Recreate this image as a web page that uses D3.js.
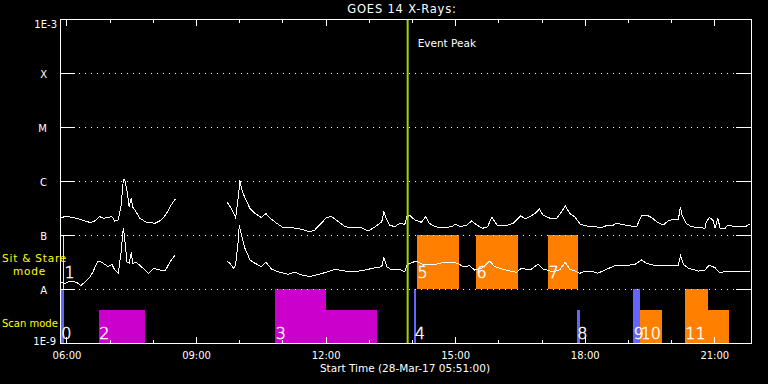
<!DOCTYPE html>
<html>
<head>
<meta charset="utf-8">
<script src="https://cdn.jsdelivr.net/npm/d3@7"></script>
<style>
body { margin: 0; background: #000; }
svg { display: block; }
text { font-family: "DejaVu Sans", sans-serif; fill: #fff; }
</style>
</head>
<body>
<script>
// GOES 14 X-ray flux, 28-Mar-17, with observation windows

var startTime = "05:51";
var endTime = "21:51";
var peakTime = "13:54";

// long channel (1-8 A), null = data gap
var longTimes = ["05:51","06:00","06:10","06:19","06:33","06:40","06:46","06:51","06:58","07:03","07:07","07:12","07:16","07:19","07:21","07:24","07:27","07:30","07:32","07:35","07:42","07:51","08:03","08:12","08:19","08:26","08:31",
  "09:00",
  "09:43","09:49","09:55","09:59","10:01","10:03","10:08","10:15","10:22","10:31","10:37","10:43","10:52","11:01","11:13","11:27","11:38","11:45","11:54","12:01","12:08","12:18","12:27","12:36","12:50","12:59","13:09","13:18","13:21","13:25","13:29","13:36","13:43","13:50","13:53","13:57","14:04","14:13","14:19","14:24","14:32","14:43","14:55","15:00","15:07","15:16","15:23","15:30","15:38","15:45","15:51","15:58","16:11","16:21","16:31","16:37","16:44","16:51","16:57","17:02","17:12","17:21","17:28","17:33","17:39","17:46","17:54","18:07","18:14","18:23","18:30","18:40","18:44","18:56","19:12","19:19","19:26","19:33","19:40","19:49","19:56","20:03","20:10","20:13","20:15","20:21","20:28","20:40","20:47","20:49","20:53","20:58","21:01","21:05","21:08","21:15","21:19","21:29","21:43","21:49"];
var longFlux = [2.1e-7,2.2e-7,2.1e-7,1.95e-7,1.7e-7,1.84e-7,2.2e-7,2.04e-7,2.1e-7,2.2e-7,1.82e-7,1.9e-7,3.6e-7,1.06e-6,1.04e-6,6.8e-7,3.3e-7,4.8e-7,3.3e-7,2.9e-7,2.04e-7,1.72e-7,1.65e-7,1.9e-7,2.5e-7,3.7e-7,4.6e-7,
  null,
  4.1e-7,3.1e-7,2.1e-7,5.5e-7,1.03e-6,7.3e-7,4.8e-7,3.1e-7,2.5e-7,2.1e-7,2.5e-7,2.04e-7,1.65e-7,1.37e-7,1.37e-7,1.27e-7,1.15e-7,1.24e-7,1.65e-7,2.1e-7,2.2e-7,1.76e-7,1.42e-7,1.37e-7,1.37e-7,1.19e-7,1.42e-7,1.76e-7,2.7e-7,1.9e-7,1.53e-7,1.42e-7,1.65e-7,1.58e-7,2.18e-7,2.3e-7,1.9e-7,1.72e-7,2.18e-7,1.65e-7,1.42e-7,1.37e-7,1.42e-7,1.58e-7,1.42e-7,1.53e-7,1.82e-7,1.53e-7,1.33e-7,1.42e-7,2.13e-7,1.53e-7,1.49e-7,1.65e-7,2.28e-7,1.98e-7,2.18e-7,2.52e-7,3.03e-7,2.34e-7,2.04e-7,2.04e-7,2.7e-7,3.49e-7,2.52e-7,2.18e-7,1.58e-7,1.42e-7,1.42e-7,1.37e-7,1.49e-7,1.53e-7,1.65e-7,1.53e-7,1.42e-7,2.28e-7,2.34e-7,2.1e-7,1.76e-7,1.53e-7,1.82e-7,1.95e-7,1.9e-7,3.34e-7,2.34e-7,1.65e-7,1.42e-7,1.37e-7,1.33e-7,1.76e-7,2.1e-7,1.9e-7,1.33e-7,2.04e-7,1.33e-7,1.33e-7,1.53e-7,1.42e-7,1.42e-7,1.58e-7];

// short channel (0.5-4 A)
var shortTimes = ["05:51","05:58","06:05","06:14","06:20","06:26","06:33","06:37","06:41","06:44","06:49","06:53","06:58","07:03","07:07","07:12","07:16","07:19","07:21","07:24","07:27","07:30","07:32","07:37","07:44","07:54","08:01","08:10","08:17","08:24","08:31",
  "09:00",
  "09:43","09:47","09:52","09:55","09:59","10:00","10:03","10:08","10:15","10:22","10:31","10:37","10:45","10:54","11:08","11:17","11:27","11:38","11:50","12:01","12:13","12:27","12:41","12:55","13:09","13:18","13:21","13:25","13:32","13:41","13:50","13:53","13:57","14:06","14:16","14:25","14:34","14:43","14:53","15:04","15:11","15:20","15:27","15:37","15:48","15:55","16:05","16:16","16:25","16:32","16:44","16:55","17:02","17:16","17:25","17:33","17:39","17:49","17:53","18:00","18:09","18:18","18:28","18:42","18:56","19:10","19:19","19:26","19:38","19:51","20:03","20:10","20:13","20:17","20:24","20:38","20:47","20:53","21:01","21:07","21:19","21:33","21:49"];
var shortFlux = [1.33e-8,1.27e-8,1.41e-8,1.33e-8,1.15e-8,1.37e-8,1.69e-8,2.09e-8,2.78e-8,3.3e-8,3.12e-8,2.87e-8,2.59e-8,2.87e-8,2.25e-8,1.95e-8,4.9e-8,1.37e-7,8.1e-8,3.2e-8,2.99e-8,4.78e-8,2.99e-8,3.12e-8,2.59e-8,1.95e-8,2.42e-8,2.25e-8,2.15e-8,3.2e-8,4.26e-8,
  null,
  3.3e-8,2.99e-8,2.42e-8,2.78e-8,8.7e-8,1.53e-7,1.0e-7,5.66e-8,3.44e-8,2.99e-8,2.59e-8,3.12e-8,2.34e-8,2.09e-8,1.87e-8,2.04e-8,1.82e-8,1.69e-8,1.87e-8,2.04e-8,2.32e-8,2.15e-8,2.09e-8,2.25e-8,2.48e-8,2.59e-8,3.8e-8,2.59e-8,2.25e-8,2.34e-8,2.09e-8,2.78e-8,2.99e-8,3.3e-8,2.78e-8,2.87e-8,2.87e-8,3.12e-8,3.12e-8,2.99e-8,2.59e-8,2.7e-8,2.25e-8,2.42e-8,3.3e-8,2.59e-8,2.34e-8,2.15e-8,2.04e-8,2.42e-8,2.25e-8,2.87e-8,2.34e-8,2.09e-8,2.25e-8,3.12e-8,2.34e-8,2.09e-8,1.95e-8,2.15e-8,2.15e-8,1.95e-8,2.25e-8,2.7e-8,2.7e-8,2.87e-8,3.44e-8,2.99e-8,2.7e-8,2.78e-8,2.78e-8,2.7e-8,4.14e-8,2.87e-8,2.42e-8,2.15e-8,2.25e-8,2.78e-8,2.48e-8,2.04e-8,2.09e-8,2.09e-8,2.15e-8];

// observation windows ("" label = continuation of previous one)
var obsLabel = ["0","1","2","3","","4","5","6","7","8","9","","10","11",""];
var obsStart = ["05:52","05:55","06:45","10:50","12:01","14:03","14:07","15:29","17:09","17:49","19:07","19:13","19:17","20:19","20:51"];
var obsEnd   = ["05:56","05:57","07:49","12:01","13:11","14:06","15:05","16:27","17:51","17:53","19:12","19:17","19:47","20:51","21:20"];
var obsMode  = ["scan","sit","scan","scan","scan","scan","sit","sit","sit","scan","scan","scan","scan","scan","scan"];
var obsFull  = [true,true,false,true,false,true,true,true,true,false,true,true,false,true,false];
var obsKind  = ["a","d","b","b","b","a","c","c","c","a","a","a","c","c","c"];

var tickLabels = ["06:00","09:00","12:00","15:00","18:00","21:00"];
var levelValues = [1e-9,1e-8,1e-7,1e-6,1e-5,1e-4,1e-3];
var levelLabels = ["1E-9","A","B","C","M","X","1E-3"];

var kindColor = { a: "#6464ff", b: "#cc00cc", c: "#ff8000", d: "#ffff00" };

var width = 768, height = 384;
var margin = { left: 60, top: 19, right: 17, bottom: 41 };
var W = width - margin.left - margin.right;   // 691
var H = height - margin.top - margin.bottom;  // 324

var parseT = d3.timeParse("%H:%M");

var svg = d3.select("body").append("svg")
    .attr("width", width)
    .attr("height", height)
    .style("background", "#000");

var g = svg.append("g")
    .attr("transform", `translate(${margin.left} ${margin.top})`);

var x = d3.scaleTime()
    .domain([parseT(startTime), parseT(endTime)])
    .range([0, W]);

var y = d3.scaleLog()
    .domain([1e-9, 1e-3])
    .range([H, 0]);

// observation bars
var partFrac = 0.61;
var bars = obsStart.map(function (s, i) {
    var bottom = obsMode[i] == "sit" ? y(1e-8) : y(1e-9);
    var top = obsMode[i] == "sit" ? y(1e-7) : y(1e-8);
    if (!obsFull[i]) top = bottom - (bottom - top) * partFrac;
    return { x0: x(parseT(s)), x1: x(parseT(obsEnd[i])), top: top, bottom: bottom,
             label: obsLabel[i], mode: obsMode[i], kind: obsKind[i] };
});

g.selectAll("rect.obs")
    .data(bars)
    .enter().append("rect")
    .attr("class", "obs")
    .attr("x", d => d.x0)
    .attr("y", d => d.top)
    .attr("width", d => d.x1 - d.x0)
    .attr("height", d => d.bottom - d.top)
    .attr("fill", d => kindColor[d.kind])
    .attr("shape-rendering", "crispEdges");

// dotted grid lines at the flare class levels
g.selectAll("line.grid")
    .data(levelValues.slice(1, -1))
    .enter().append("line")
    .attr("class", "grid")
    .attr("x1", 0).attr("x2", W)
    .attr("y1", d => Math.round(y(d)) + 0.5)
    .attr("y2", d => Math.round(y(d)) + 0.5)
    .attr("stroke", "#fff")
    .attr("stroke-dasharray", "1 5")
    .attr("stroke-dashoffset", 5)
    .attr("shape-rendering", "crispEdges");

// curves
function series(times, flux) {
    return times.map(function (t, i) { return { t: parseT(t), v: flux[i] }; });
}
var line = d3.line()
    .defined(d => d.v != null)
    .x(d => x(d.t))
    .y(d => y(d.v));

[series(longTimes, longFlux), series(shortTimes, shortFlux)].forEach(function (s) {
    g.append("path")
        .datum(s)
        .attr("d", line)
        .attr("fill", "none")
        .attr("stroke", "#fff")
        .attr("stroke-width", 1)
        .attr("shape-rendering", "crispEdges");
});

// bar numbers
g.selectAll("text.obs")
    .data(bars.filter(d => d.label != ""))
    .enter().append("text")
    .attr("class", "obs")
    .attr("x", d => d.x0 + (d.label == "1" ? 1.5 : 0.5))
    .attr("y", d => d.mode == "sit" ? d.bottom - 11 : d.bottom - 4.5)
    .style("font-size", "16px")
    .style("font-weight", 200)
    .style("stroke", "#fff")
    .style("stroke-width", 0.45)
    .text(d => d.label);

// event peak
var px = x(parseT(peakTime));
g.append("line")
    .attr("x1", px).attr("x2", px)
    .attr("y1", 0).attr("y2", H)
    .attr("stroke", "#a4d400")
    .attr("stroke-width", 2);
g.append("text")
    .attr("x", px + 10)
    .attr("y", 24)
    .attr("dy", "0.35em")
    .style("font-size", "10.5px")
    .text("Event Peak");

// axes
function clean(sel) { sel.select(".domain").remove(); }

g.append("g")
    .attr("transform", `translate(0 ${H})`)
    .call(d3.axisBottom(x).ticks(d3.timeHour.every(1)).tickSizeInner(-3.5).tickSizeOuter(0).tickFormat(""))
    .call(clean);
g.append("g")
    .attr("transform", `translate(0 ${H})`)
    .call(d3.axisBottom(x).tickValues(tickLabels.map(parseT)).tickSizeInner(-6.5).tickSizeOuter(0)
        .tickPadding(8.5).tickFormat((d, i) => tickLabels[i]))
    .call(clean);
g.append("g")
    .call(d3.axisTop(x).ticks(d3.timeHour.every(1)).tickSizeInner(-3.5).tickSizeOuter(0).tickFormat(""))
    .call(clean);
g.append("g")
    .call(d3.axisTop(x).tickValues(tickLabels.map(parseT)).tickSizeInner(-7).tickSizeOuter(0).tickFormat(""))
    .call(clean);

var yAxis = g.append("g")
    .call(d3.axisLeft(y).tickValues(levelValues).tickSizeInner(-14.5).tickSizeOuter(0)
        .tickPadding(13).tickFormat((d, i) => levelLabels[i]))
    .call(clean);
yAxis.selectAll("text").attr("dy", "0.42em");
yAxis.selectAll("text").filter(d => d == 1e-3).attr("x", -3).attr("dy", "0.82em");
yAxis.selectAll("text").filter(d => d == 1e-9).attr("x", -4).attr("dy", "0.12em");

g.append("g")
    .attr("transform", `translate(${W} 0)`)
    .call(d3.axisRight(y).tickValues(levelValues.slice(1, -1)).tickSizeInner(-15).tickSizeOuter(0).tickFormat(""))
    .call(clean);

g.selectAll(".tick line").attr("stroke", "#fff").attr("shape-rendering", "crispEdges");
g.selectAll(".tick text").attr("fill", "#fff").style("font-family", "DejaVu Sans").style("font-size", "10px");

g.append("rect")
    .attr("x", 0).attr("y", 0)
    .attr("width", W).attr("height", H)
    .attr("fill", "none")
    .attr("stroke", "#fff")
    .attr("shape-rendering", "crispEdges");

// titles
svg.append("text")
    .attr("x", 402).attr("y", 9)
    .attr("dy", "0.35em")
    .attr("text-anchor", "middle")
    .style("font-size", "11.5px")
    .style("letter-spacing", "0.8px")
    .text("GOES 14 X-Rays:");
svg.append("text")
    .attr("x", 405).attr("y", 368)
    .attr("dy", "0.35em")
    .attr("text-anchor", "middle")
    .style("font-size", "10.5px")
    .text("Start Time (28-Mar-17 05:51:00)");

// mode labels on the left
var modeText = [["Sit & Stare", 2, 258, 0.8], ["mode", 13, 271, 0.8], ["Scan mode", 2, 323, 0]];
svg.selectAll("text.mode")
    .data(modeText)
    .enter().append("text")
    .attr("class", "mode")
    .attr("x", d => d[1])
    .attr("y", d => d[2])
    .attr("dy", "0.35em")
    .style("font-size", d => d[3] ? "10.5px" : "10px")
    .style("letter-spacing", d => d[3] + "px")
    .style("fill", "#ffff00")
    .text(d => d[0]);
</script>
</body>
</html>
